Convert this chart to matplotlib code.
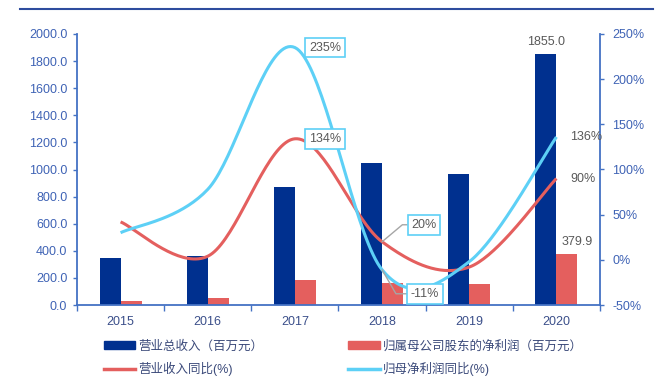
import numpy as np
import matplotlib
matplotlib.use('Agg')
import matplotlib.pyplot as plt
from matplotlib.lines import Line2D
from matplotlib.patches import Patch

plt.rcParams['font.family'] = ['Liberation Sans', 'Noto Sans CJK SC', 'DejaVu Sans']

years = ['2015', '2016', '2017', '2018', '2019', '2020']
revenue = [345, 362, 873, 1050, 967, 1855.0]        # 营业总收入（百万元）
net_profit = [30, 52, 184, 160, 155, 379.9]         # 归属母公司股东的净利润（百万元）
revenue_yoy = [42, 4, 134, 20, -8, 90]              # 营业收入同比(%)
profit_yoy = [30, 78, 235, -11, -2, 136]            # 归母净利润同比(%)

c_rev = '#00308F'
c_np = '#E45F5E'
c_line_blue = '#5DD0F6'
c_axis = '#4472C4'
c_tick = '#3F63B5'
c_text = '#595959'


def smooth(y, n=40):
    # Excel-style smoothed line: bezier through each point (catmull-rom)
    p = np.column_stack([np.arange(len(y), dtype=float), np.asarray(y, dtype=float)])
    pts = np.vstack([p[0], p, p[-1]])
    out = []
    t = np.linspace(0, 1, n)[:, None]
    for i in range(1, len(pts) - 2):
        p0, p1, p2, p3 = pts[i - 1], pts[i], pts[i + 1], pts[i + 2]
        c1 = p1 + (p2 - p0) / 6
        c2 = p2 - (p3 - p1) / 6
        seg = ((1 - t) ** 3) * p1 + 3 * ((1 - t) ** 2) * t * c1 + 3 * (1 - t) * t ** 2 * c2 + t ** 3 * p2
        out.append(seg if i == 1 else seg[1:])
    out = np.vstack(out)
    return out[:, 0], out[:, 1]


fig = plt.figure(figsize=(6.67, 3.83), dpi=100)
ax = fig.add_axes([77 / 667, 78 / 383, 523 / 667, 271 / 383])
ax2 = ax.twinx()

x = np.arange(len(years))
w = 0.24
ax.bar(x - w / 2, revenue, w, color=c_rev, zorder=2)
ax.bar(x + w / 2, net_profit, w, color=c_np, zorder=2)

ax.set_xlim(-0.5, len(years) - 0.5)
ax.set_ylim(0, 2000)
ax.set_yticks(np.arange(0, 2001, 200))
ax.set_yticklabels([f'{v:.1f}' for v in np.arange(0, 2001, 200)])
ax.set_xticks(x)
ax.set_xticklabels(years)
ax.set_xticks(np.arange(-0.5, len(years), 1), minor=True)

ax2.set_ylim(-50, 250)
ax2.set_yticks(np.arange(-50, 251, 50))
ax2.set_yticklabels([f'{v}%' for v in np.arange(-50, 251, 50)])

for s in ['top', 'right']:
    ax.spines[s].set_visible(False)
for s in ['top', 'left', 'bottom']:
    ax2.spines[s].set_visible(False)
for sp in [ax.spines['left'], ax.spines['bottom'], ax2.spines['right']]:
    sp.set_color(c_axis)
    sp.set_linewidth(1.3)

ax.tick_params(axis='y', length=3, width=1, color=c_axis, labelcolor=c_tick, labelsize=9, pad=4)
ax.tick_params(axis='x', which='major', length=0, labelcolor='#3B4F8A', labelsize=9, pad=8)
ax.tick_params(axis='x', which='minor', length=4, width=1, color=c_axis, direction='out')
ax2.tick_params(axis='y', length=3, width=1, color=c_axis, labelcolor=c_tick, labelsize=9, pad=6)

xs, ys = smooth(revenue_yoy)
ax2.plot(xs, ys, color=c_np, lw=2.2, solid_capstyle='butt')
xs, ys = smooth(profit_yoy)
ax2.plot(xs, ys, color=c_line_blue, lw=2.2, solid_capstyle='butt')

# bar value labels for 2020
ax.annotate(f'{revenue[-1]:.1f}', (x[-1] - w / 2, revenue[-1]), xytext=(0, 6),
            textcoords='offset pixels', ha='center', va='bottom', fontsize=9, color=c_text)
ax.annotate(f'{net_profit[-1]:.1f}', (x[-1] + w / 2, net_profit[-1]), xytext=(10, 6),
            textcoords='offset pixels', ha='center', va='bottom', fontsize=9, color=c_text)

box = dict(boxstyle='square,pad=0.3', fc='white', ec=c_line_blue, lw=1.2)
lead = dict(arrowstyle='-', color='#A6A6A6', lw=1, shrinkA=0, shrinkB=0)

ax2.annotate(f'{profit_yoy[2]}%', (x[2], profit_yoy[2]), xytext=(30, 0), textcoords='offset pixels',
             ha='center', va='center', fontsize=9, color=c_text, bbox=box)
ax2.annotate(f'{revenue_yoy[2]}%', (x[2], revenue_yoy[2]), xytext=(30, 0), textcoords='offset pixels',
             ha='center', va='center', fontsize=9, color=c_text, bbox=box)
ax2.annotate(f'{revenue_yoy[3]}%', (x[3], revenue_yoy[3]), xytext=(42, 17), textcoords='offset pixels',
             ha='center', va='center', fontsize=9, color=c_text, bbox=box,
             arrowprops=dict(lead, connectionstyle='angle,angleA=0,angleB=40,rad=0'))
ax2.annotate(f'{profit_yoy[3]}%', (x[3], profit_yoy[3]), xytext=(43, -24), textcoords='offset pixels',
             ha='center', va='center', fontsize=9, color=c_text, bbox=box,
             arrowprops=dict(lead, connectionstyle='angle,angleA=0,angleB=-60,rad=0'))
ax2.annotate(f'{profit_yoy[-1]}%', (x[-1], profit_yoy[-1]), xytext=(14, 0), textcoords='offset pixels',
             ha='left', va='center', fontsize=9, color=c_text)
ax2.annotate(f'{revenue_yoy[-1]}%', (x[-1], revenue_yoy[-1]), xytext=(14, 0), textcoords='offset pixels',
             ha='left', va='center', fontsize=9, color=c_text)

handles = [Patch(color=c_rev), Line2D([], [], color=c_np, lw=2.5),
           Patch(color=c_np), Line2D([], [], color=c_line_blue, lw=2.5)]
labels = ['营业总收入（百万元）', '营业收入同比(%)', '归属母公司股东的净利润（百万元）', '归母净利润同比(%)']
leg = fig.legend(handles, labels, ncol=2, loc='upper left', bbox_to_anchor=(104 / 667, 1 - 340 / 383),
                 frameon=False, fontsize=9, handlelength=2.5, handleheight=0.6, handletextpad=0.25,
                 columnspacing=6.8, labelspacing=0.75, borderpad=0, borderaxespad=0)
for t in leg.get_texts():
    t.set_color('#3B4A7A')

fig.add_artist(Line2D([20 / 667, 653 / 667], [1 - 9 / 383] * 2, transform=fig.transFigure,
                      color='#2E4C9E', lw=1.5))

fig.savefig('out.png', dpi=100)
